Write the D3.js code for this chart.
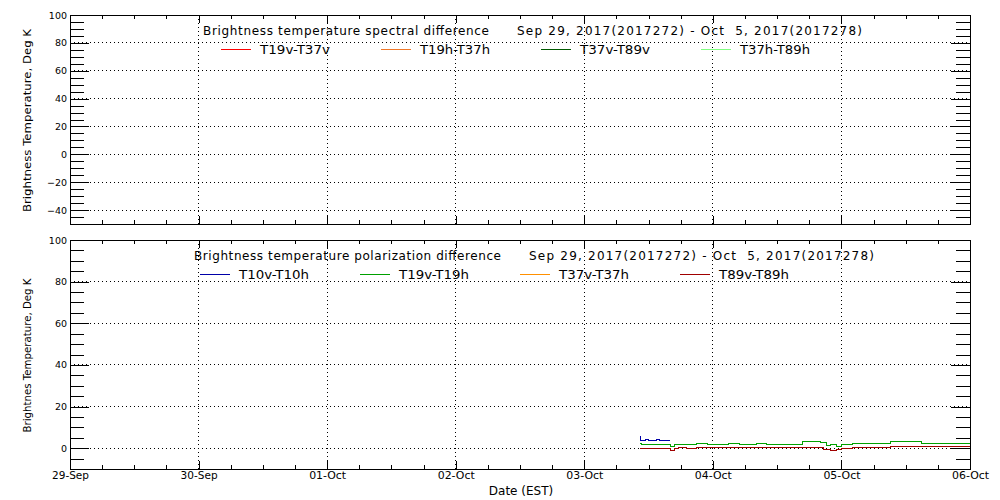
<!DOCTYPE html>
<html><head><meta charset="utf-8">
<script src="https://cdn.jsdelivr.net/npm/d3@7"></script>
<style>
body{margin:0;background:#fff;}
svg{display:block;font-family:"DejaVu Sans",sans-serif;}
text{white-space:pre;}
</style></head><body>
<svg id="c" width="1000" height="500"></svg>
<script>
// ---------------- data ----------------
const dateStart = "2017-09-29T00:00";
const dateEnd   = "2017-10-06T00:00";
const dayTickLabels = ["29-Sep","30-Sep","01-Oct","02-Oct","03-Oct","04-Oct","05-Oct","06-Oct"];
const xAxisTitle = "Date (EST)";

const topTitle    = ["Brightness temperature spectral difference", "Sep 29, 2017(2017272) - Oct  5, 2017(2017278)"];
const bottomTitle = ["Brightness temperature polarization difference", "Sep 29, 2017(2017272) - Oct  5, 2017(2017278)"];
const topYTitle    = "Brightness Temperature, Deg K";
const bottomYTitle = "Brightnes Temperature, Deg K";

const topYTicks    = [100, 80, 60, 40, 20, 0, -20, -40];
const bottomYTicks = [100, 80, 60, 40, 20, 0];

const topSeriesNames    = ["T19v-T37v", "T19h-T37h", "T37v-T89v", "T37h-T89h"];
const topSeriesColors   = ["#ff0000", "#f07828", "#005a00", "#80ff80"];
const bottomSeriesNames  = ["T10v-T10h", "T19v-T19h", "T37v-T37h", "T89v-T89h"];
const bottomSeriesColors = ["#0000a8", "#00a000", "#ff9000", "#a00000"];

// top panel: no data in this period
const topTimes = [];
const t19v_t37v = [];
const t19h_t37h = [];
const t37v_t89v = [];
const t37h_t89h = [];

// bottom panel
const t10Times = ["2017-10-03T10:24","2017-10-03T10:30","2017-10-03T11:00","2017-10-03T11:30","2017-10-03T12:00",
  "2017-10-03T12:30","2017-10-03T13:00","2017-10-03T13:30","2017-10-03T14:00","2017-10-03T14:30",
  "2017-10-03T15:00","2017-10-03T15:30","2017-10-03T16:05"];
const t10v_t10h = [5.6, 3.9, 3.6, 4.0, 3.7, 3.9, 3.6, 4.0, 3.8, 3.6, 3.9, 3.7, 3.7];

const obsTimes = ["2017-10-03T10:24","2017-10-03T10:45","2017-10-03T11:30","2017-10-03T12:30","2017-10-03T13:30",
  "2017-10-03T14:30","2017-10-03T15:30","2017-10-03T16:05","2017-10-03T16:45","2017-10-03T17:30",
  "2017-10-03T19:00","2017-10-03T21:00","2017-10-03T23:00","2017-10-04T01:00","2017-10-04T03:00",
  "2017-10-04T05:00","2017-10-04T08:10","2017-10-04T10:00","2017-10-04T12:00","2017-10-04T14:00",
  "2017-10-04T16:45","2017-10-04T18:00","2017-10-04T20:00","2017-10-04T20:40","2017-10-04T21:15",
  "2017-10-04T22:00","2017-10-04T23:00","2017-10-05T00:05","2017-10-05T02:00","2017-10-05T03:50",
  "2017-10-05T06:00","2017-10-05T09:05","2017-10-05T12:00","2017-10-05T15:00","2017-10-05T18:00",
  "2017-10-05T21:00","2017-10-06T00:00"];
const t19v_t19h = [2.2, 1.9, 2.0, 1.9, 2.0, 1.9, 2.0, 0.8, 1.6, 2.0,
  2.0, 2.1, 2.0, 2.0, 2.1, 2.0, 2.3, 1.9, 1.9, 1.9,
  3.0, 3.0, 2.9, 2.9, 1.2, 1.7, 1.0, 2.0, 2.2, 2.2,
  2.4, 3.0, 3.0, 2.4, 2.4, 2.4, 2.4];
const t37v_t37h = [];
const t89v_t89h = [-0.3, -0.3, -0.3, -0.2, -0.3, -0.3, -0.3, -1.2, 0.0, 0.1,
  0.0, 0.2, 0.1, 0.1, 0.2, 0.1, 0.2, 0.1, 0.2, 0.1,
  0.4, 0.3, 0.4, -0.8, -0.8, -0.9, -0.8, -0.3, 0.2, 0.5,
  0.5, 0.8, 0.9, 0.8, 0.9, 0.8, 0.8];

// ---------------- drawing ----------------
const parse = d3.timeParse("%Y-%m-%dT%H:%M");
const svg = d3.select("#c");
const L = 70, R = 970;
const x = d3.scaleTime().domain([parse(dateStart), parse(dateEnd)]).range([L, R]);
const days = d3.timeDay.range(x.domain()[0], x.domain()[1]).slice(1);

function series(times, values, name, color) {
  return {name, color, pts: times.map((t, i) => ({t: parse(t), v: values[i]}))};
}

const panels = [
  {
    top: 15, bottom: 224, yDomain: [-50, 100], yTicks: topYTicks,
    title: topTitle, titleX: [203, 517], titleLen: [286, 345], titleY: 35,
    yTitle: topYTitle, yTitleLen: 183, yTitleSize: 11,
    legendX: 221, legendY: 49.5,
    names: topSeriesNames, colors: topSeriesColors,
    data: [
      series(topTimes, t19v_t37v, topSeriesNames[0], topSeriesColors[0]),
      series(topTimes, t19h_t37h, topSeriesNames[1], topSeriesColors[1]),
      series(topTimes, t37v_t89v, topSeriesNames[2], topSeriesColors[2]),
      series(topTimes, t37h_t89h, topSeriesNames[3], topSeriesColors[3])
    ],
    xLabels: false
  },
  {
    top: 240, bottom: 469, yDomain: [-10, 100], yTicks: bottomYTicks,
    title: bottomTitle, titleX: [194, 529], titleLen: [307, 345], titleY: 259.5,
    yTitle: bottomYTitle, yTitleLen: 154, yTitleSize: 10.5,
    legendX: 200, legendY: 274,
    names: bottomSeriesNames, colors: bottomSeriesColors,
    data: [
      series(t10Times, t10v_t10h, bottomSeriesNames[0], bottomSeriesColors[0]),
      series(obsTimes, t19v_t19h, bottomSeriesNames[1], bottomSeriesColors[1]),
      series(obsTimes, t37v_t37h, bottomSeriesNames[2], bottomSeriesColors[2]),
      series(obsTimes, t89v_t89h, bottomSeriesNames[3], bottomSeriesColors[3])
    ],
    xLabels: true
  }
];

function styleAxis(sel) {
  sel.select(".domain").remove();
  sel.selectAll("line").attr("stroke", "#000").attr("shape-rendering", "crispEdges");
  sel.attr("font-family", null).attr("font-size", null);
}

panels.forEach(p => {
  const y = d3.scaleLinear().domain(p.yDomain).range([p.bottom, p.top]);
  const g = svg.append("g");
  const fmt = d3.format("d");
  const minorY = d3.range(p.yDomain[0], p.yDomain[1] + 1, 5).filter(v => v % 20 !== 0);

  // dotted grid
  const grid = g.append("g").attr("stroke", "#000").attr("stroke-dasharray", "1,3").attr("shape-rendering", "crispEdges");
  grid.selectAll("line.h").data(p.yTicks.filter(v => v > p.yDomain[0] && v < p.yDomain[1])).join("line")
    .attr("class", "h").attr("x1", L).attr("x2", R).attr("y1", d => y(d)).attr("y2", d => y(d));
  grid.selectAll("line.v").data(days).join("line")
    .attr("class", "v").attr("x1", d => x(d)).attr("x2", d => x(d)).attr("y1", p.top).attr("y2", p.bottom);

  // left axis
  g.append("g").attr("transform", `translate(${L},0)`)
    .call(d3.axisLeft(y).tickValues(p.yTicks).tickSize(-19).tickPadding(3).tickFormat(fmt))
    .call(styleAxis)
    .selectAll("text").attr("font-size", 9.5).attr("fill", "#000");
  g.append("g").attr("transform", `translate(${L},0)`)
    .call(d3.axisLeft(y).tickValues(minorY).tickSize(-14).tickFormat(""))
    .call(styleAxis);
  // right axis
  g.append("g").attr("transform", `translate(${R},0)`)
    .call(d3.axisRight(y).tickValues(p.yTicks).tickSize(-19).tickFormat(""))
    .call(styleAxis);
  g.append("g").attr("transform", `translate(${R},0)`)
    .call(d3.axisRight(y).tickValues(minorY).tickSize(-14).tickFormat(""))
    .call(styleAxis);

  // bottom axis
  const bx = g.append("g").attr("transform", `translate(0,${p.bottom})`);
  bx.append("g").call(d3.axisBottom(x).ticks(d3.timeHour.every(6)).tickSize(-4).tickFormat("")).call(styleAxis);
  const dayTicks = d3.timeDay.range(x.domain()[0], d3.timeHour.offset(x.domain()[1], 1));
  bx.append("g").call(d3.axisBottom(x).tickValues(dayTicks).tickSize(-8).tickPadding(3)
      .tickFormat((d, i) => p.xLabels ? dayTickLabels[i] : ""))
    .call(styleAxis)
    .selectAll("text").attr("font-size", 10).attr("fill", "#000")
    .attr("textLength", 37).attr("lengthAdjust", "spacingAndGlyphs");
  // top axis
  const tx = g.append("g").attr("transform", `translate(0,${p.top})`);
  tx.append("g").call(d3.axisTop(x).ticks(d3.timeHour.every(6)).tickSize(-4).tickFormat("")).call(styleAxis);
  tx.append("g").call(d3.axisTop(x).tickValues(dayTicks).tickSize(-8).tickFormat("")).call(styleAxis);

  // frame
  g.append("rect").attr("x", L).attr("y", p.top).attr("width", R - L).attr("height", p.bottom - p.top)
    .attr("fill", "none").attr("stroke", "#000").attr("shape-rendering", "crispEdges");

  // title
  p.title.forEach((t, i) => {
    g.append("text").attr("x", p.titleX[i]).attr("y", p.titleY).attr("font-size", 12)
      .attr("textLength", p.titleLen[i]).text(t);
  });

  // legend
  p.names.forEach((n, i) => {
    const lx = p.legendX + i * 160;
    g.append("line").attr("x1", lx).attr("x2", lx + 30).attr("y1", p.legendY).attr("y2", p.legendY)
      .attr("stroke", p.colors[i]).attr("stroke-width", 1).attr("shape-rendering", "crispEdges");
    g.append("text").attr("x", lx + 39).attr("y", p.legendY + 4.5).attr("font-size", 12)
      .attr("textLength", 70).attr("lengthAdjust", "spacingAndGlyphs").text(n);
  });

  // y title
  g.append("text").attr("transform", `translate(31,${(p.top + p.bottom) / 2 + 1}) rotate(-90)`)
    .attr("text-anchor", "middle").attr("font-size", p.yTitleSize).attr("textLength", p.yTitleLen)
    .attr("lengthAdjust", "spacingAndGlyphs").text(p.yTitle);

  // data lines
  const line = d3.line().x(d => x(d.t)).y(d => y(d.v)).defined(d => d.v != null).curve(d3.curveStepAfter);
  g.append("g").selectAll("path").data(p.data).join("path")
    .attr("d", d => line(d.pts)).attr("fill", "none").attr("stroke", d => d.color)
    .attr("stroke-width", 1).attr("shape-rendering", "crispEdges");
});

// x axis title
svg.append("text").attr("x", 521).attr("y", 495).attr("text-anchor", "middle").attr("font-size", 12).text(xAxisTitle);
</script>
</body></html>
